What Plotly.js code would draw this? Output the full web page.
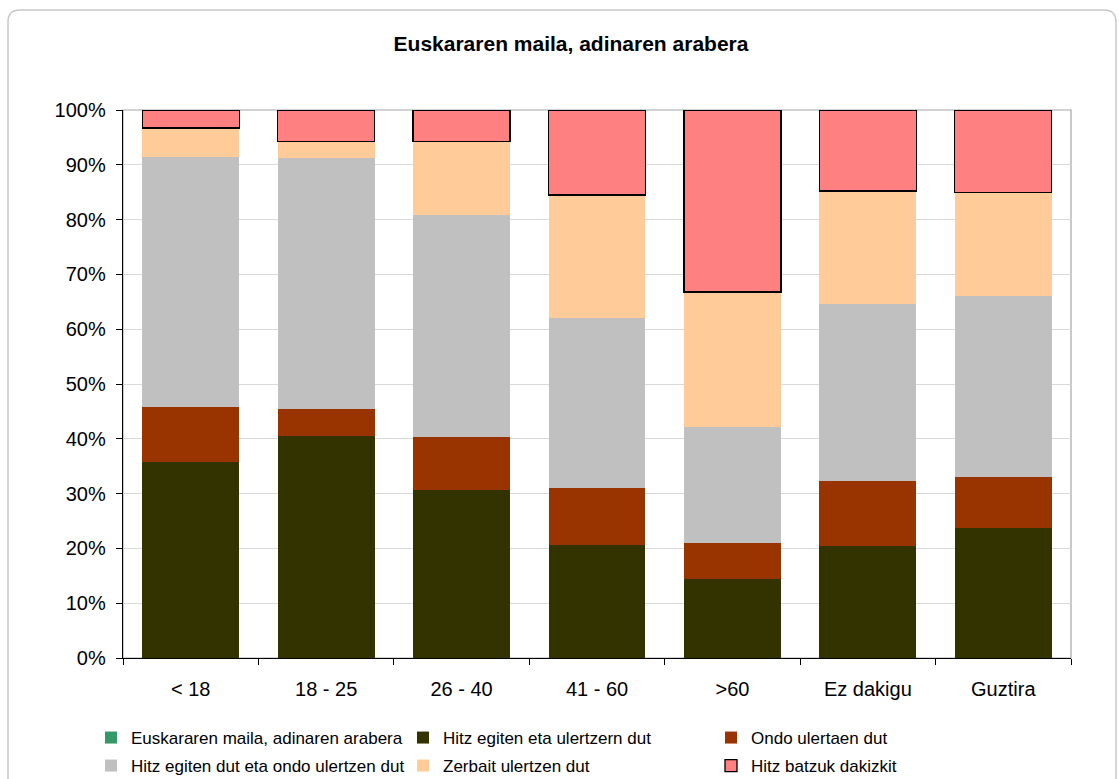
<!DOCTYPE html>
<html>
<head>
<meta charset="utf-8">
<script src="https://cdn.plot.ly/plotly-3.0.1.min.js"></script>
<style>html,body{margin:0;padding:0;background:#fff;}#chart{width:1119px;height:779px;}</style>
</head>
<body>
<div id="chart"></div>
<script>
var categories = ["< 18", "18 - 25", "26 - 40", "41 - 60", ">60", "Ez dakigu", "Guztira"];
var seriesNames = [
  "Euskararen maila, adinaren arabera",
  "Hitz egiten eta ulertzern dut",
  "Ondo ulertaen dut",
  "Hitz egiten dut eta ondo ulertzen dut",
  "Zerbait ulertzen dut",
  "Hitz batzuk dakizkit"
];
var titleValues = [0, 0, 0, 0, 0, 0, 0];
var hitzEgitenValues = [35.8, 40.5, 30.7, 20.6, 14.4, 20.4, 23.7];
var ondoValues = [10.0, 4.9, 9.6, 10.4, 6.6, 11.9, 9.3];
var hitzOndoValues = [45.6, 45.8, 40.5, 31.0, 21.2, 32.3, 33.1];
var zerbaitValues = [5.3, 3.1, 13.5, 22.5, 24.6, 20.6, 18.8];
var batzukValues = [3.3, 5.7, 5.7, 15.5, 33.2, 14.8, 15.1];
var yTickValues = [0, 10, 20, 30, 40, 50, 60, 70, 80, 90, 100];
var yTickLabels = ["0%", "10%", "20%", "30%", "40%", "50%", "60%", "70%", "80%", "90%", "100%"];

var colors = ["#339966", "#333300", "#993300", "#C0C0C0", "#FFCC99", "#FF8080"];
var allValues = [titleValues, hitzEgitenValues, ondoValues, hitzOndoValues, zerbaitValues, batzukValues];
var legendIds = ["legend", "legend2", "legend3", "legend4", "legend5", "legend6"];

var data = allValues.map(function (vals, i) {
  return {
    type: "bar",
    name: seriesNames[i],
    x: categories,
    y: vals,
    legend: legendIds[i],
    showlegend: true,
    marker: {
      color: colors[i],
      line: { color: "#000000", width: i === 5 ? 1.3 : 0 }
    },
    hoverinfo: "skip"
  };
});

// plot area in px: x 123..1071, y 110..658
var L = 123, R = 1071, T = 110, B = 658;
var W = R - L, H = B - T;
function px(x) { return (x - L) / W; }
function py(y) { return (B - y) / H; }

var legendTextX = [131, 443, 751];
var legendRowY = [738, 766];
var legendPos = [[0, 0], [1, 0], [2, 0], [0, 1], [1, 1], [2, 1]];
var fontFamily = "'Liberation Sans', Arial, sans-serif";

var layout = {
  width: 1119,
  height: 779,
  paper_bgcolor: "#ffffff",
  plot_bgcolor: "#ffffff",
  margin: { l: L, r: 1119 - R, t: T, b: 779 - B, autoexpand: false },
  font: { family: fontFamily, color: "#000000", size: 17 },
  barmode: "stack",
  bargap: 0.284,
  title: {
    text: "<b>Euskararen maila, adinaren arabera</b>",
    font: { family: fontFamily, size: 21, color: "#000000" },
    xref: "container", yref: "container",
    x: 571 / 1119, xanchor: "center",
    y: 1 - 44 / 779, yanchor: "middle"
  },
  xaxis: {
    type: "category",
    showline: true, linecolor: "#000000", linewidth: 1.3,
    ticks: "outside", tickson: "boundaries", ticklen: 6, tickcolor: "#000000", tickwidth: 1,
    tickfont: { size: 20, family: fontFamily, color: "#000000" },
    ticklabelstandoff: 13,
    showgrid: false, zeroline: false, fixedrange: true
  },
  yaxis: {
    range: [0, 100],
    tickmode: "array",
    tickvals: yTickValues,
    ticktext: yTickLabels,
    showline: true, linecolor: "#000000", linewidth: 1.3,
    ticks: "outside", ticklen: 6, tickcolor: "#000000", tickwidth: 1,
    tickfont: { size: 20, family: fontFamily, color: "#000000" },
    ticklabelstandoff: 6,
    showgrid: true, gridcolor: "#d9d9d9", gridwidth: 1,
    zeroline: false, fixedrange: true
  },
  shapes: [
    {
      type: "rect", xref: "paper", yref: "paper", x0: 0, x1: 1, y0: 0, y1: 1,
      line: { color: "#a6a6a6", width: 1.2 }, layer: "below"
    },
    {
      type: "path", xref: "paper", yref: "paper", layer: "below",
      path: (function () {
        var x0 = px(8), x1 = px(1116), yt = py(10), yb = py(800);
        var rx = 12 / W, ry = 12 / H;
        return "M" + x0 + "," + yb + " L" + x0 + "," + (yt - ry) +
          " Q" + x0 + "," + yt + " " + (x0 + rx) + "," + yt +
          " L" + (x1 - rx) + "," + yt +
          " Q" + x1 + "," + yt + " " + x1 + "," + (yt - ry) +
          " L" + x1 + "," + yb;
      })(),
      line: { color: "#c8c8c8", width: 1.5 }
    }
  ],
  hovermode: false
};

legendIds.forEach(function (id, i) {
  var p = legendPos[i];
  layout[id] = {
    x: px(legendTextX[p[0]] - 40),
    xanchor: "left",
    y: py(legendRowY[p[1]]),
    yanchor: "middle",
    orientation: "v",
    traceorder: "normal",
    bgcolor: "rgba(0,0,0,0)",
    borderwidth: 0,
    font: { size: 17, family: fontFamily, color: "#000000" }
  };
});

Plotly.newPlot("chart", data, layout, { displayModeBar: false, staticPlot: true });
</script>
</body>
</html>
